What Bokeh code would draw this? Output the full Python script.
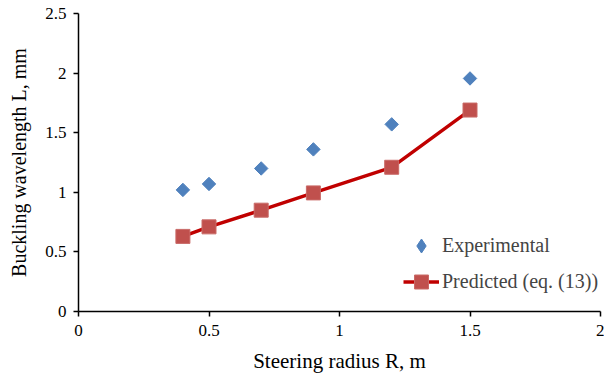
from bokeh.plotting import figure
from bokeh.models import Range1d, FixedTicker, Legend
from bokeh.embed import file_html
from bokeh.resources import INLINE
import math

radius = [0.4, 0.5, 0.7, 0.9, 1.2, 1.5]
experimental = [1.02, 1.07, 1.20, 1.36, 1.57, 1.955]
predicted = [0.63, 0.71, 0.85, 0.995, 1.21, 1.69]

x_ticks = [0, 0.5, 1, 1.5, 2]
x_tick_labels = ["0", "0.5", "1", "1.5", "2"]
y_ticks = [0, 0.5, 1, 1.5, 2, 2.5]
y_tick_labels = ["0", "0.5", "1", "1.5", "2", "2.5"]

FONT = "Liberation Serif"

p = figure(width=604, height=376, output_backend="svg", toolbar_location=None,
           x_range=Range1d(0, 2), y_range=Range1d(0, 2.5),
           min_border_left=78, min_border_right=4, min_border_top=13, min_border_bottom=65)
p.outline_line_color = None
p.grid.visible = False
p.background_fill_color = "white"

for ax, ticks, labels in ((p.xaxis[0], x_ticks, x_tick_labels), (p.yaxis[0], y_ticks, y_tick_labels)):
    ax.ticker = FixedTicker(ticks=ticks)
    ax.major_label_overrides = {t: l for t, l in zip(ticks, labels)}
    ax.minor_tick_line_color = None
    ax.major_tick_in = 0
    ax.major_tick_out = 5
    ax.axis_line_color = "black"
    ax.axis_line_width = 1.5
    ax.major_tick_line_color = "black"
    ax.major_tick_line_width = 1.5
    ax.major_label_text_font = FONT
    ax.major_label_text_font_size = "17px"
    ax.major_label_text_color = "black"
    ax.axis_label_text_font = FONT
    ax.axis_label_text_font_style = "normal"
    ax.axis_label_text_color = "black"

p.xaxis[0].axis_label = "Steering radius R, m"
p.yaxis[0].axis_label = "Buckling wavelength L, mm"
p.xaxis[0].axis_label_text_font_size = "21px"
p.yaxis[0].axis_label_text_font_size = "20px"
p.xaxis[0].major_label_standoff = 8
p.yaxis[0].major_label_standoff = 7
p.xaxis[0].axis_label_standoff = 10
p.yaxis[0].axis_label_standoff = 12

# Legend glyph for the experimental series (not drawn in the plot itself)
exp_legend = p.scatter(radius, experimental, marker="diamond", size=14,
                       fill_color="#4F81BD", line_color="#4F81BD", visible=False)
exp_r = p.scatter(radius, experimental, marker="square", angle=math.pi / 4, size=9.5,
                  fill_color="#4F81BD", line_color="#4F81BD")
pred_l = p.line(radius, predicted, line_color="#C00000", line_width=3.4)
pred_s = p.scatter(radius, predicted, marker="square", size=14,
                   fill_color="#C0504D", line_color="#C96A67", line_width=1)

legend = Legend(items=[("Experimental", [exp_legend]), ("Predicted (eq. (13))", [pred_l, pred_s])],
                location=(325, 12), padding=0, margin=0, spacing=1,
                glyph_width=36, glyph_height=35, label_height=35, label_standoff=3,
                label_text_font=FONT, label_text_font_size="20px",
                inactive_fill_alpha=0,
                background_fill_alpha=0, border_line_alpha=0)
p.add_layout(legend)

open("out.html", "w").write(file_html(p, INLINE))
